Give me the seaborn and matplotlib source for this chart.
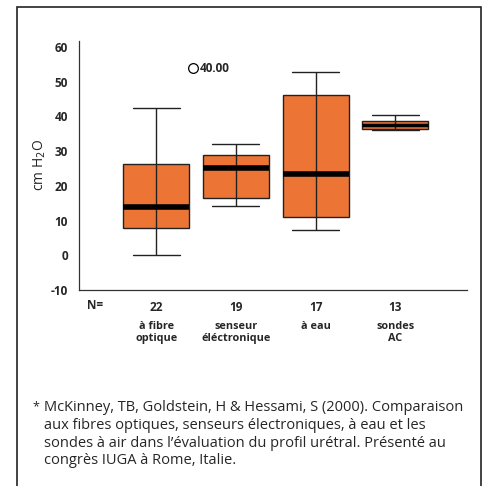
import pandas as pd
import matplotlib.pyplot as plt
import matplotlib.patches as mpatches
import seaborn as sns
import numpy as np

sns.set_theme(style="white")
plt.rcParams['font.family'] = ['Open Sans', 'DejaVu Sans']

# Box statistics (min, Q1, median, Q3, max)
categories = ['à fibre\noptique', 'senseur\néléctronique', 'à eau', 'sondes\nAC']
counts = [22, 19, 17, 13]
lows = [0.0, 14.1, 7.2, 36.1]
q1s = [7.8, 16.5, 11.0, 36.4]
medians = [13.9, 25.1, 23.4, 37.6]
q3s = [26.3, 28.9, 46.2, 38.7]
highs = [42.5, 32.1, 52.6, 40.5]

# single outlier of the 2nd group, labelled with its case number
outlier_value = 53.8
outlier_label = '40.00'

y_ticks = [-10, 0, 10, 20, 30, 40, 50, 60]

footnote = ("McKinney, TB, Goldstein, H & Hessami, S (2000). Comparaison\n"
            "aux fibres optiques, senseurs électroniques, à eau et les\n"
            "sondes à air dans l’évaluation du profil urétral. Présenté au\n"
            "congrès IUGA à Rome, Italie.")

# long table: five summary values per group gives exact quartiles
rows = []
for i, cat in enumerate(categories):
    for v in (lows[i], q1s[i], medians[i], q3s[i], highs[i]):
        rows.append({'group': cat, 'value': v})
df = pd.DataFrame(rows)

fig = plt.figure(figsize=(4.91, 4.86), dpi=100)
ax = fig.add_axes([0.161, 0.403, 0.79, 0.513])

orange = '#EC7536'
sns.boxplot(data=df, x='group', y='value', order=categories, ax=ax,
            whis=(0, 100), showfliers=False, width=0.83,
            color=orange, saturation=1, linecolor='#222222', linewidth=1.0,
            medianprops={'color': 'black', 'linewidth': 4, 'zorder': 5},
            whiskerprops={'color': '#222222', 'linewidth': 1.0},
            capprops={'color': '#222222', 'linewidth': 1.0},
            capwidths=0.59)

# the very narrow last box shows a thinner median
for line in ax.lines:
    yd = np.asarray(line.get_ydata(), dtype=float)
    if len(yd) == 2 and np.allclose(yd, medians[3]) and line.get_linewidth() > 3:
        line.set_linewidth(2.5)

# whisker line also runs through the box
xs = np.arange(len(categories))
ax.vlines(xs, q1s, q3s, color='#222222', linewidth=1.0, zorder=4)

# outlier
ax.plot([0.46], [outlier_value], marker='o', markersize=7,
        markerfacecolor='white', markeredgecolor='black',
        markeredgewidth=0.9, linestyle='none', zorder=6)
ax.text(0.55, outlier_value, outlier_label, fontsize=8.5, fontweight='bold',
        va='center', ha='left')

ax.set_xlim(-0.97, 3.9)
ax.set_ylim(-10, 61.7)
ax.set_yticks(y_ticks)
ax.set_yticklabels([str(t) for t in y_ticks], fontsize=8.5, fontweight='bold')
ax.tick_params(axis='y', length=0, pad=8)
ax.set_xticks(xs)
ax.set_xticklabels([str(n) for n in counts], fontsize=8.5, fontweight='bold')
ax.tick_params(axis='x', length=0, pad=8)
ax.set_xlabel('')
ax.set_ylabel('cm H$_2$O', fontsize=10)
ax.yaxis.set_label_coords(-0.08, 0.5)

for side in ['top', 'right']:
    ax.spines[side].set_visible(False)
for side in ['left', 'bottom']:
    ax.spines[side].set_color('#333333')
    ax.spines[side].set_linewidth(0.9)

trans = ax.get_xaxis_transform()
ax.text(-0.87, -0.063, 'N=', transform=trans, fontsize=8.5,
        fontweight='bold', ha='left', va='center')
for i, cat in enumerate(categories):
    ax.text(xs[i], -0.123, cat, transform=trans, fontsize=7.8,
            fontweight='bold', ha='center', va='top', linespacing=1.1)

# outer frame
fig.patches.append(mpatches.Rectangle(
    (17 / 491, -0.02), (481 - 17) / 491, 1 - 7 / 486 + 0.02,
    transform=fig.transFigure, fill=False, edgecolor='#222222',
    linewidth=1.2, clip_on=False))

fig.text(32 / 491, 1 - 400 / 486, '*', fontsize=9, va='top', ha='left')
fig.text(44 / 491, 1 - 400 / 486, footnote, fontsize=10.5, va='top',
         ha='left', linespacing=1.25)

fig.savefig('out.png', dpi=100)
